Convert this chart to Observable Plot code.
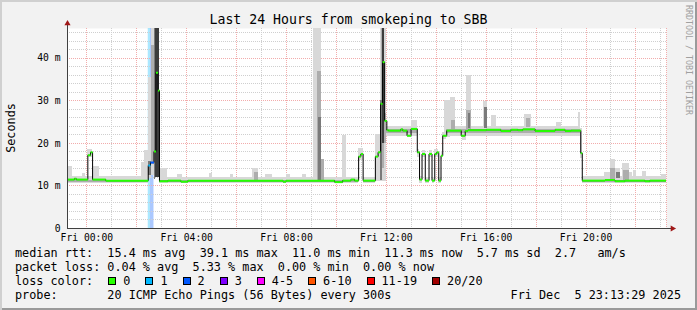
<!DOCTYPE html>
<html>
<head>
<meta charset="utf-8">
<script src="https://cdn.jsdelivr.net/npm/d3@7"></script>
<script src="https://cdn.jsdelivr.net/npm/@observablehq/plot@0.6"></script>
<style>
  html, body { margin: 0; padding: 0; background: #ffffff; }
  #chart { position: relative; width: 697px; height: 310px; background: #f2f2f2; overflow: hidden;
           box-shadow: inset 2px 2px 0 #d0d0d0, inset -2px -2px 0 #9a9a9a;
           font-family: "DejaVu Sans Mono", monospace; color: #000; }
  #chart svg { position: absolute; left: 0; top: 0; }
  .title { position: absolute; left: 0; top: 12px; width: 697px; text-align: center; font-size: 13.2px; line-height: 16px; white-space: pre; }
  .ylab { position: absolute; left: 10.5px; top: 127.5px; font-size: 11.8px; line-height: 14px; white-space: pre;
          transform: translate(-50%, -50%) rotate(-90deg); }
  .mark { position: absolute; left: 684px; top: 5px; font-size: 8.3px; line-height: 9px; color: #a0a0a0; writing-mode: vertical-rl; white-space: pre; }
  .leg { position: absolute; left: 15px; font-size: 11.8px; line-height: 13.8px; height: 13.8px; white-space: pre; }
  .legr { position: absolute; right: 16px; font-size: 11.8px; line-height: 13.8px; white-space: pre; }
  .sw { display: inline-block; width: 6px; height: 6px; border: 1px solid #000; margin-right: 7px; vertical-align: baseline; }
  .it { display: inline-block; margin-right: 15px; }
</style>
</head>
<body>
<div id="chart"></div>
<script>
// ---------- data ----------
// time in hours relative to Fri 00:00; the window is Thu 23:13:29 .. Fri 23:13:29
const tStart = -0.775, tEnd = 23.225;
const yMax = 47; // ms

const xTickHours = [0, 4, 8, 12, 16, 20];
const xTickLabels = ["Fri 00:00", "Fri 04:00", "Fri 08:00", "Fri 12:00", "Fri 16:00", "Fri 20:00"];
const yTickMs = [0, 10, 20, 30, 40];
const yTickLabels = ["0", "10 m", "20 m", "30 m", "40 m"];

// median rtt (ms), as steps starting at each time
const medianTimes = [-0.775, -0.50, -0.42, 0.04, 0.15, 0.23, 0.76, 2.46, 2.55, 2.69, 2.77, 2.85, 2.91, 3.25, 3.77, 4.05,
  7.86, 7.98, 9.93, 10.25, 10.58, 10.73, 10.89, 10.98, 11.07, 11.56, 11.67, 11.77, 11.85, 11.93, 12.02, 12.08, 12.58, 12.66,
  12.83, 12.99, 13.24, 13.33, 13.43, 13.56, 13.71, 13.83, 13.94, 14.02, 14.10, 14.19, 14.26, 14.42, 15.00, 15.16, 15.27,
  16.00, 16.59, 16.99, 17.27, 17.47, 17.96, 18.76, 19.16, 19.40, 19.79, 19.85, 20.76, 21.16, 21.56, 22.36, 22.56];
const medianMs = [11.5, 11.7, 11.5, 17.2, 17.9, 11.5, 11.25, 14.8, 15.5, 18.1, 36.6, 32.4, 11.1, 11.25, 11.0, 11.25,
  11.0, 11.25, 10.9, 11.25, 11.5, 11.25, 16.9, 17.5, 11.25, 16.9, 17.9, 29.3, 39.1, 25.3, 23.1, 23.0, 23.3, 23.0,
  21.8, 23.4, 17.9, 11.5, 17.5, 11.25, 17.5, 11.25, 17.5, 17.9, 11.25, 17.1, 21.8, 23.0, 21.8, 22.9, 23.1,
  23.2, 22.9, 23.2, 23.1, 23.3, 22.9, 23.2, 22.9, 23.0, 17.7, 11.25, 11.4, 11.1, 11.25, 11.1, 11.25];

// samples with packet loss (pings lost out of 20)
const lossTimes = [2.46, 2.55];
const lossCounts = [1, 2];

// loss colour legend
const lossLabels = ["0", "1", "2", "3", "4-5", "6-10", "11-19", "20/20"];
const lossColors = ["#26ff00", "#00b8ff", "#0059ff", "#7e00ff", "#ff00ff", "#ff5500", "#ff0000", "#a10000"];

// smoke: [from h, to h, low ms, high ms, shade level 1 (light) .. 4 (dark)]
const smokeBands = [
  [-0.775, 2.20, 10.5, 12.2, 1], [-0.775, 2.46, 10.75, 11.3, 2],
  [2.91, 10.89, 10.5, 12.1, 1], [2.91, 10.89, 10.7, 11.2, 2],
  [0.04, 0.23, 16.6, 18.5, 1],
  [10.89, 11.07, 16.0, 18.7, 1],
  [11.07, 11.58, 10.5, 12.1, 1], [11.07, 11.56, 10.7, 11.2, 2],
  [12.02, 13.24, 21.7, 24.0, 1], [12.02, 13.24, 22.3, 23.2, 2],
  [13.24, 13.33, 16.8, 18.5, 1], [13.33, 13.43, 10.6, 12.2, 1], [13.43, 13.56, 16.6, 18.3, 1], [13.56, 13.71, 10.6, 12.0, 1],
  [13.71, 13.83, 16.6, 18.3, 1], [13.83, 13.94, 10.6, 12.0, 1], [13.94, 14.10, 16.6, 18.6, 1], [14.10, 14.19, 10.6, 12.0, 1],
  [14.19, 14.26, 16.3, 18.0, 1], [14.26, 14.42, 21.0, 22.6, 1],
  [14.42, 19.79, 21.7, 24.0, 1], [14.42, 19.79, 22.3, 23.2, 2],
  [19.79, 19.85, 16.5, 23.5, 1],
  [19.85, 23.225, 10.5, 12.2, 1], [19.85, 23.225, 10.7, 11.2, 2],
  [-0.72, -0.56, 10.5, 14.5, 1], [-0.18, -0.04, 10.5, 12.9, 1], [0.26, 0.50, 10.5, 14.5, 1],
  [2.20, 2.46, 10.5, 15.5, 1], [2.32, 2.46, 10.5, 18.3, 1],
  [2.46, 2.59, 11.8, 35.4, 1], [2.46, 2.59, 12.5, 15.8, 3],
  [2.59, 2.70, 12.5, 47, 1], [2.59, 2.70, 15.0, 43, 2],
  [2.70, 2.75, 11.5, 47, 3], [2.75, 2.91, 12.0, 47, 4],
  [2.93, 3.25, 10.5, 14.0, 1], [3.65, 3.85, 10.5, 12.6, 1], [4.90, 5.05, 10.5, 12.9, 1], [5.77, 5.89, 10.5, 12.6, 1],
  [6.65, 6.89, 10.5, 14.0, 1], [6.73, 6.89, 11.0, 13.2, 2],
  [7.17, 7.45, 10.5, 12.6, 1], [7.98, 8.14, 10.5, 12.6, 1], [8.66, 8.82, 10.5, 12.8, 1],
  [9.10, 9.42, 11.3, 47, 1], [9.26, 9.42, 11.3, 37, 2], [9.28, 9.40, 11.3, 26, 3], [9.42, 9.54, 11.0, 16.3, 2],
  [10.26, 10.42, 11.0, 21.8, 1],
  [11.58, 11.76, 11.0, 22.2, 1],
  [11.76, 11.99, 11.0, 47, 1], [11.76, 11.84, 11.3, 30, 3], [11.80, 11.92, 14.0, 47, 2], [11.85, 11.92, 20.0, 47, 4],
  [11.92, 12.02, 20.0, 27.0, 2],
  [12.99, 13.24, 21.7, 25.3, 1],
  [14.35, 14.59, 21.5, 30.0, 1], [14.59, 14.79, 22.0, 30.8, 1], [14.62, 14.76, 22.5, 25.3, 2],
  [15.07, 15.23, 20.6, 23.0, 1],
  [15.23, 15.43, 22.5, 36.0, 1], [15.23, 15.43, 23.0, 27.7, 2], [15.29, 15.39, 23.5, 27.0, 3],
  [15.91, 16.07, 22.5, 29.8, 1], [15.93, 16.05, 23.5, 28.5, 3],
  [16.23, 16.43, 22.0, 26.5, 1],
  [17.55, 17.80, 22.6, 26.9, 1], [17.60, 17.76, 23.7, 25.8, 2],
  [18.80, 19.00, 22.0, 24.9, 1], [19.68, 19.79, 21.8, 27.3, 1],
  [20.76, 21.00, 10.5, 13.2, 1],
  [21.00, 21.20, 10.5, 16.1, 1], [21.00, 21.20, 11.0, 14.0, 2],
  [21.20, 21.40, 10.5, 14.0, 1], [21.24, 21.40, 11.7, 13.2, 3],
  [21.48, 21.76, 10.5, 15.2, 1], [21.52, 21.76, 11.3, 13.6, 2],
  [21.76, 21.88, 10.5, 13.2, 1], [21.92, 22.04, 10.5, 13.6, 1],
  [22.28, 22.44, 10.5, 13.4, 1], [23.01, 23.21, 10.5, 12.8, 1]
];

const medianStats = ["15.4", "39.1", "11.0", "11.3", "5.7", "2.7"];
const lossStats = ["0.04", "5.33", "0.00", "0.00"];
const probeText = "20 ICMP Echo Pings (56 Bytes) every 300s";
const stampText = "Fri Dec  5 23:13:29 2025";

// ---------- derived ----------
const shadeColors = {1: "#d8d8d8", 2: "#adadad", 3: "#7a7a7a", 4: "#3c3c3c"};
function lossIndex(n) { return n <= 3 ? n : n <= 5 ? 4 : n <= 10 ? 5 : n <= 19 ? 6 : 7; }
function lossAt(t) { const i = lossTimes.indexOf(t); return i < 0 ? 0 : lossCounts[i]; }

const med = medianTimes.map((t, i) => ({
  t, t2: i + 1 < medianTimes.length ? medianTimes[i + 1] : tEnd, v: medianMs[i], loss: lossAt(t)
}));
const stepPts = med.map(d => ({t: d.t, v: d.v})).concat([{t: tEnd, v: med[med.length - 1].v}]);
const lossRows = med.filter(d => d.loss > 0);
const smoke = smokeBands.slice().sort((a, b) => a[4] - b[4]);

const font = "DejaVu Sans Mono";
const minorGrid = {stroke: "#cfcfcf", strokeDasharray: "1,1", shapeRendering: "crispEdges"};
const majorGrid = {stroke: "#f2acac", strokeDasharray: "1,1", shapeRendering: "crispEdges"};

const plot = Plot.plot({
  width: 697, height: 245,
  marginTop: 28, marginBottom: 17, marginLeft: 67, marginRight: 31,
  style: {background: "transparent", fontFamily: font, fontSize: "9.7px", color: "#000", overflow: "visible"},
  x: {type: "linear", domain: [tStart, tEnd]},
  y: {type: "linear", domain: [0, yMax]},
  color: {type: "identity"},
  marks: [
    Plot.frame({fill: "#ffffff", stroke: "none"}),
    Plot.barX(lossRows, {x1: "t", x2: "t2", fill: d => lossColors[lossIndex(d.loss)], fillOpacity: 0.33}),
    Plot.ruleX(d3.range(1, 24, 2), minorGrid),
    Plot.ruleY(d3.range(2, yMax, 2).filter(v => v % 10 !== 0), minorGrid),
    Plot.ruleX(d3.range(0, 24, 2), majorGrid),
    Plot.ruleX([tEnd], majorGrid),
    Plot.ruleY(yTickMs.filter(v => v > 0), majorGrid),
    Plot.rect(smoke, {x1: d => d[0], x2: d => d[1], y1: d => d[2], y2: d => d[3],
      fill: d => shadeColors[d[4]], clip: true, shapeRendering: "crispEdges"}),
    Plot.line(stepPts, {x: "t", y: "v", curve: "step-after", stroke: "#000", strokeWidth: 1, clip: true}),
    Plot.link(med, {x1: "t", x2: "t2", y1: "v", y2: "v", stroke: d => lossColors[lossIndex(d.loss)], strokeWidth: 2, clip: true}),
    Plot.ruleY([0], {stroke: "#404040", insetRight: -6, shapeRendering: "crispEdges"}),
    Plot.ruleX([tStart], {stroke: "#404040", insetTop: -6, shapeRendering: "crispEdges"}),
    Plot.dot([0], {x: null, y: null, frameAnchor: "top-left", dy: -5, symbol: "triangle", r: 2.3, fill: "#a01818", stroke: "none"}),
    Plot.dot([0], {x: null, y: null, frameAnchor: "bottom-right", dx: 6, symbol: "triangle", rotate: 90, r: 2.3, fill: "#a01818", stroke: "none"}),
    Plot.axisX(xTickHours, {tickFormat: d => xTickLabels[xTickHours.indexOf(d)], tickSize: 0, tickPadding: 6, label: null, fontSize: 9.7, fontFamily: font}),
    Plot.axisY(yTickMs, {tickFormat: d => yTickLabels[yTickMs.indexOf(d)], tickSize: 0, tickPadding: 7, label: null, fontSize: 9.7, fontFamily: font})
  ]
});

const chart = document.getElementById("chart");
chart.appendChild(plot);

function addDiv(cls, text, top) {
  const el = document.createElement("div");
  el.className = cls;
  el.textContent = text;
  if (top != null) el.style.top = top + "px";
  chart.appendChild(el);
  return el;
}
addDiv("title", "Last 24 Hours from smokeping to SBB");
addDiv("ylab", "Seconds");
addDiv("mark", "RRDTOOL / TOBI OETIKER");

const lineTops = [247.3, 261.1, 274.9, 288.7];
addDiv("leg", `median rtt:  ${medianStats[0]} ms avg  ${medianStats[1]} ms max  ${medianStats[2]} ms min  ${medianStats[3]} ms now  ${medianStats[4]} ms sd  ${medianStats[5]}   am/s`, lineTops[0]);
addDiv("leg", `packet loss: ${lossStats[0]} % avg  ${lossStats[1]} % max  ${lossStats[2]} % min  ${lossStats[3]} % now`, lineTops[1]);
const lc = addDiv("leg", "loss color:  ", lineTops[2]);
lossLabels.forEach((lab, i) => {
  const it = document.createElement("span");
  it.className = "it";
  if (i === 0) it.style.marginLeft = "1px";
  const sw = document.createElement("span");
  sw.className = "sw";
  sw.style.background = lossColors[i];
  it.appendChild(sw);
  it.appendChild(document.createTextNode(lab));
  lc.appendChild(it);
});
addDiv("leg", `probe:       ${probeText}`, lineTops[3]);
addDiv("legr", stampText, lineTops[3]);
</script>
</body>
</html>
